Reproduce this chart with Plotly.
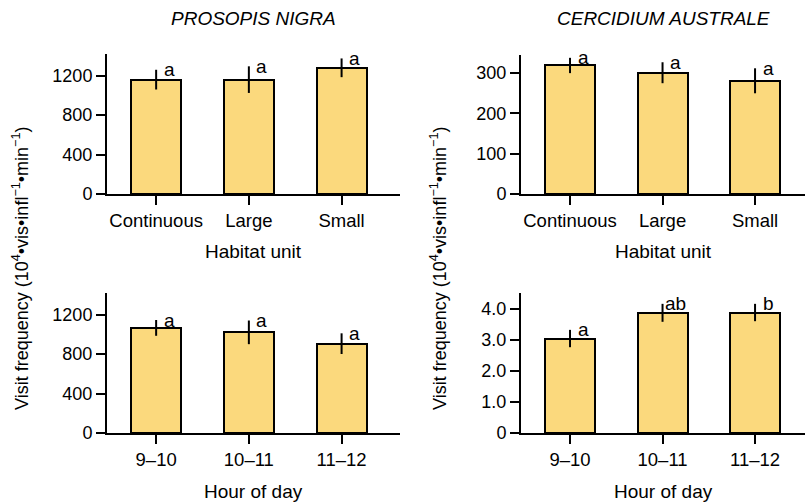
import plotly.graph_objects as go

# Data
habitat = ["Continuous", "Large", "Small"]
hours = ["9\u201310", "10\u201311", "11\u201312"]

prosopis_habitat = [1160, 1160, 1280]
prosopis_habitat_err = [100, 135, 95]
prosopis_habitat_letters = ["a", "a", "a"]

cercidium_habitat = [319, 301, 281]
cercidium_habitat_err = [19, 26, 31]
cercidium_habitat_letters = ["a", "a", "a"]

prosopis_hour = [1066, 1021, 906]
prosopis_hour_err = [80, 120, 105]
prosopis_hour_letters = ["a", "a", "a"]

cercidium_hour = [3.05, 3.88, 3.89]
cercidium_hour_err = [0.28, 0.29, 0.28]
cercidium_hour_letters = ["a", "ab", "b"]

BAR_COLOR = "#FBD97D"
FONT = "Liberation Sans, Arial, sans-serif"
W, H = 805, 503

# panel boxes in pixels: (left, right, top, bottom)
panels = [
    dict(x=habitat, y=prosopis_habitat, e=prosopis_habitat_err, lab=prosopis_habitat_letters,
         box=(107, 400, 54, 194), xr=[-0.53, 2.63], yr=[0, 1420],
         tv=[0, 400, 800, 1200], tt=["0", "400", "800", "1200"], xtitle="Habitat unit"),
    dict(x=habitat, y=cercidium_habitat, e=cercidium_habitat_err, lab=cercidium_habitat_letters,
         box=(521, 805, 55, 194), xr=[-0.53, 2.54], yr=[0, 345],
         tv=[0, 100, 200, 300], tt=["0", "100", "200", "300"], xtitle="Habitat unit"),
    dict(x=hours, y=prosopis_hour, e=prosopis_hour_err, lab=prosopis_hour_letters,
         box=(107, 400, 293, 433), xr=[-0.53, 2.63], yr=[0, 1420],
         tv=[0, 400, 800, 1200], tt=["0", "400", "800", "1200"], xtitle="Hour of day"),
    dict(x=hours, y=cercidium_hour, e=cercidium_hour_err, lab=cercidium_hour_letters,
         box=(521, 805, 293, 433), xr=[-0.53, 2.54], yr=[0, 4.52],
         tv=[0, 1, 2, 3, 4], tt=["0", "1.0", "2.0", "3.0", "4.0"], xtitle="Hour of day"),
]

fig = go.Figure()
annotations = []

for i, p in enumerate(panels, start=1):
    xa = "x" if i == 1 else f"x{i}"
    ya = "y" if i == 1 else f"y{i}"
    fig.add_trace(go.Bar(
        x=p["x"], y=p["y"], xaxis=xa, yaxis=ya, width=0.54,
        marker=dict(color=BAR_COLOR, line=dict(color="black", width=2)),
        error_y=dict(type="data", array=p["e"], color="black", thickness=2, width=0),
        showlegend=False,
    ))
    left, right, top, bottom = p["box"]
    key = "" if i == 1 else str(i)
    fig.update_layout(**{
        f"xaxis{key}": dict(
            domain=[left / W, right / W], range=p["xr"], anchor=ya, automargin=False,
            showline=True, linecolor="black", linewidth=2,
            ticks="outside", ticklen=9, tickwidth=1.5, tickcolor="black",
            tickfont=dict(size=18.5, color="black"), showgrid=False, zeroline=False,
            fixedrange=True,
        ),
        f"yaxis{key}": dict(
            domain=[1 - bottom / H, 1 - top / H], range=p["yr"], anchor=xa, automargin=False,
            showline=True, linecolor="black", linewidth=2,
            ticks="outside", ticklen=9, tickwidth=1.5, tickcolor="black",
            tickvals=p["tv"], ticktext=p["tt"],
            tickfont=dict(size=18, color="black"), showgrid=False, zeroline=False,
            fixedrange=True,
        ),
    })
    # significance letters
    for xv, yv, ev, lab in zip(p["x"], p["y"], p["e"], p["lab"]):
        annotations.append(dict(
            x=xv, y=yv + ev, xref=xa, yref=ya, text=lab, showarrow=False,
            xanchor="center", yanchor="middle", xshift=13,
            font=dict(size=19, color="black"),
        ))
    # x axis title
    annotations.append(dict(
        x=(left + right) / 2 / W, y=1 - (bottom + 58) / H, xref="paper", yref="paper",
        text=p["xtitle"], showarrow=False, xanchor="center", yanchor="middle",
        font=dict(size=19, color="black"),
    ))

# species titles
for name, cx in [("PROSOPIS NIGRA", 253), ("CERCIDIUM AUSTRALE", 663)]:
    annotations.append(dict(
        x=cx / W, y=1 - 18 / H, xref="paper", yref="paper", text=f"<i>{name}</i>",
        showarrow=False, xanchor="center", yanchor="middle",
        font=dict(size=19, color="black"),
    ))

# shared y axis titles
ytitle = "Visit frequency (10<sup>4</sup>\u2022vis\u2022infl<sup>\u22121</sup>\u2022min<sup>\u22121</sup>)"
for cx in [20, 438]:
    annotations.append(dict(
        x=cx / W, y=1 - 269 / H, xref="paper", yref="paper", text=ytitle,
        showarrow=False, textangle=-90, xanchor="center", yanchor="middle",
        font=dict(size=18, color="black"),
    ))

fig.update_layout(
    width=W, height=H,
    margin=dict(l=0, r=0, t=0, b=0),
    paper_bgcolor="white", plot_bgcolor="white",
    font=dict(family=FONT, color="black"),
    annotations=annotations,
    bargap=0,
)

# drop the browser's default 8px body margin so the figure fills the window
fig.write_html(
    "out.html",
    config={"displayModeBar": False},
    post_script="document.body.style.margin='0'; document.body.style.overflow='hidden';",
)
